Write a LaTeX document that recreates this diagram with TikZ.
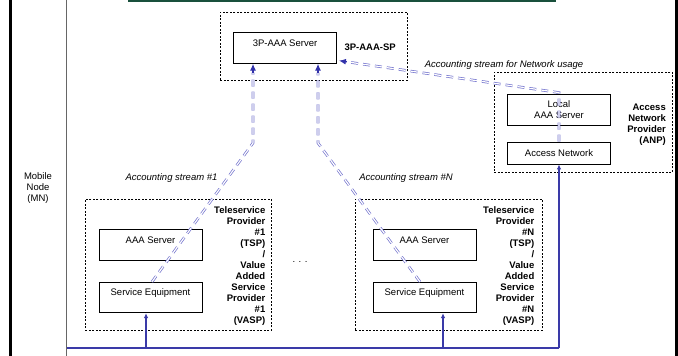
\documentclass[tikz,border=0pt]{standalone}
\usepackage{fontspec}
\setmainfont{Liberation Sans}
\usetikzlibrary{arrows.meta,calc}
\definecolor{lineblue}{RGB}{58,58,168}
\definecolor{streamblue}{RGB}{115,115,205}
\definecolor{tipblue}{RGB}{50,50,170}
\definecolor{topgreen}{RGB}{25,80,60}
\begin{document}
\begin{tikzpicture}[x=1pt,y=-1pt,
  font=\fontsize{9.5}{11}\selectfont,
  box/.style={draw, line width=0.8pt, minimum width=103pt, inner sep=3pt, align=center},
  topbox/.style={box, text height=10.5pt, text depth=14pt},
  region/.style={draw, line width=0.8pt, dash pattern=on 2pt off 1.5pt, inner sep=0pt, anchor=north west},
  regionlabel/.style={font=\fontsize{9.5}{11}\selectfont\bfseries, align=right, inner sep=0pt},
  italabel/.style={font=\fontsize{9.5}{11}\selectfont\itshape, inner sep=0pt},
  stream/.style={draw=streamblue, line width=0.7pt, double=white, double distance=1.2pt, dash pattern=on 7pt off 5pt},
  feed/.style={draw=lineblue, line width=1.4pt},
  feedtip/.style={feed, -{Latex[length=5pt,width=4.5pt]}},
  streamtip/.style={draw=tipblue, line width=1.3pt, -{Latex[length=7pt,width=6pt]}},
  framethick/.style={line width=3pt, draw=black},
  sepline/.style={line width=1pt, draw=black!60}
]
\useasboundingbox (0,0) rectangle (678,356);

% frame
\draw[framethick] (10.5,0) -- (10.5,356);
\draw[framethick] (676.5,0) -- (676.5,356);
\draw[sepline] (66.5,0) -- (66.5,356);
\draw[topgreen, line width=2pt] (128,1) -- (556,1);

% regions
\node[region, minimum width=187pt, minimum height=68pt] (sp) at (220,12) {};
\node[region, minimum width=178pt, minimum height=100pt] (anp) at (494,72) {};
\node[region, minimum width=186pt, minimum height=131pt] (tsp1) at (85,199) {};
\node[region, minimum width=187pt, minimum height=131pt] (tspn) at (355,199) {};

% boxes
\node[topbox] (srv) at (285,48) {3P-AAA Server};
\node[box, minimum height=31pt] (lsrv) at (559,109.5) {Local\\AAA Server};
\node[box, minimum height=22pt] (anet) at (559,153) {Access Network};
\node[topbox] (aaa1) at (150.5,245) {AAA Server};
\node[topbox] (se1) at (150.5,297.5) {Service Equipment};
\node[topbox] (aaan) at (424.5,245) {AAA Server};
\node[topbox] (sen) at (424.5,297.5) {Service Equipment};

% region labels
\node[regionlabel, anchor=east] (splabel) at (396,47) {3P-AAA-SP};
\node[regionlabel, anchor=north east] (anplabel) at (666,103.5) {Access\\Network\\Provider\\(ANP)};
\node[regionlabel, anchor=north east] (tsp1label) at (265.5,206.5) {Teleservice\\Provider\\\#1\\(TSP)\\/\\Value\\Added\\Service\\Provider\\\#1\\(VASP)};
\node[regionlabel, anchor=north east] (tspnlabel) at (534.5,206.5) {Teleservice\\Provider\\\#N\\(TSP)\\/\\Value\\Added\\Service\\Provider\\\#N\\(VASP)};

% other labels
\node[align=center, inner sep=0pt] (mn) at (38,188.5) {Mobile\\Node\\(MN)};
\node[italabel] (acc1) at (171.5,178) {Accounting stream \#1};
\node[italabel] (accn) at (406,178) {Accounting stream \#N};
\node[italabel] (accnet) at (504,65) {Accounting stream for Network usage};
\node[inner sep=0pt] (dots) at (300,262) {. . .};

% accounting streams
\coordinate (b1) at (253,143);
\coordinate (bn) at (318,143);
\coordinate (t1) at ($(b1 |- srv.south)+(0,9)$);
\coordinate (tn) at ($(bn |- srv.south)+(0,9)$);
\draw[stream] ($(se1.north)+(1.5,0)$) -- (b1) -- (t1);
\draw[streamtip] (t1) -- (b1 |- srv.south);
\draw[stream] ($(sen.north)+(-4.5,0)$) -- (bn) -- (tn);
\draw[streamtip] (tn) -- (bn |- srv.south);
\coordinate (tgt) at ($(srv.south east)+(2,-3)$);
\coordinate (ta) at ($(tgt)!8pt!(lsrv.north)$);
\draw[stream] (anet.north) -- ($(lsrv.north)+(0,-1)$) -- (ta);
\draw[streamtip] (ta) -- (tgt);

% feed lines
\coordinate (mnb) at (67,348);
\coordinate (corner) at (anet.south |- mnb);
\draw[feed] (mnb) -- (corner);
\draw[feedtip] (corner) -- (anet.south);
\coordinate (f1) at ($(se1.south)+(-4.5,0)$);
\coordinate (fn) at ($(sen.south)+(18.5,0)$);
\draw[feedtip] (f1 |- mnb) -- (f1);
\draw[feedtip] (fn |- mnb) -- (fn);
\end{tikzpicture}
\end{document}
